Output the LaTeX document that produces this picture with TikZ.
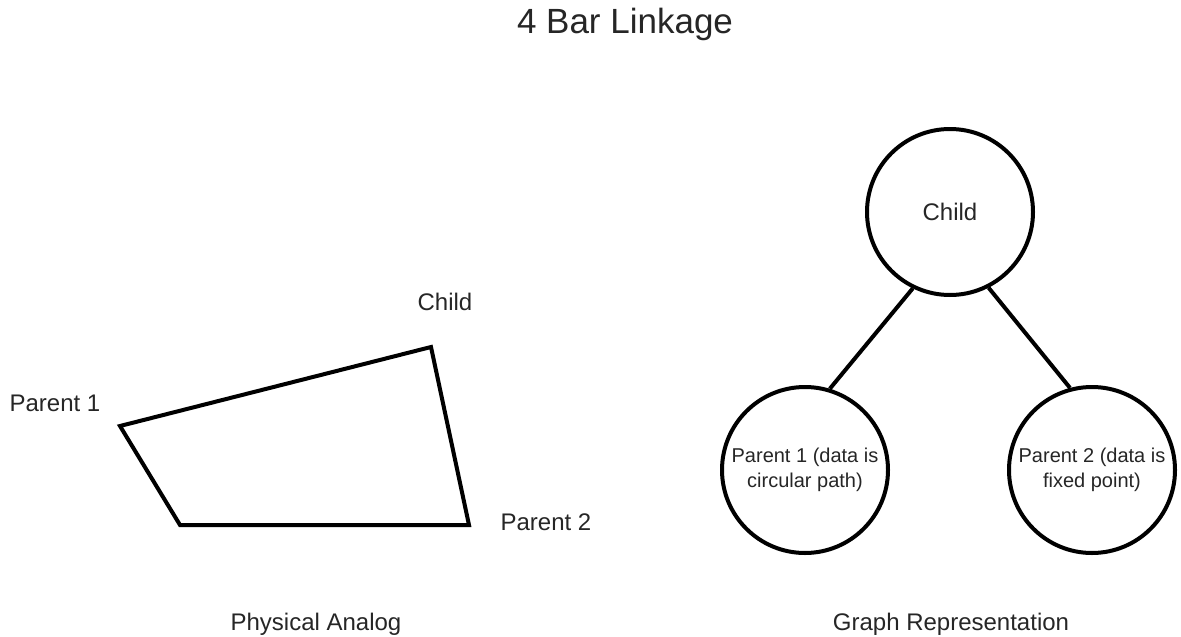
\documentclass[tikz,border=0pt]{standalone}
\usepackage{fontspec}
\setmainfont{Liberation Sans}
\usetikzlibrary{positioning}

\begin{document}
\begin{tikzpicture}[x=1pt,y=-1pt,line width=4pt,node distance=287pt]
  \tikzstyle{every node}=[text=black!85,font=\fontsize{24}{29}\selectfont]
  \tikzstyle{link}=[circle,draw,minimum size=166pt,inner sep=0pt,align=center]
  \tikzstyle{small}=[font=\fontsize{20}{25}\selectfont]
  \useasboundingbox (0,0) rectangle (1181,637);

  \node (title) at (625,24) {\fontsize{35}{42}\selectfont 4 Bar Linkage};

  % physical analog
  \coordinate (P1) at (120,426);
  \coordinate (C)  at (431,347);
  \coordinate (P2) at (469,525);
  \coordinate (B)  at (180,525);
  \draw[line join=miter] (P1) -- (C) -- (P2) -- (B) -- cycle;

  \node (lchild) at (445,302) {Child};
  \node (lp1)    at (55,403)  {Parent 1};
  \node (lp2)    at (546,522) {Parent 2};
  \node (phys)   at (316,624) {Physical Analog};

  % graph representation
  \node[link]         (child) at (950,212)  {Child};
  \node[link,small]   (par1)  at (805,470)  {Parent 1 (data is\\circular path)};
  \node[link,small]   (par2)  [right of=par1] {Parent 2 (data is\\fixed point)};

  \path (child.244) edge (par1.73)
        (child.297) edge (par2.105);

  \node (graph) at (951,624) {Graph Representation};
\end{tikzpicture}
\end{document}
